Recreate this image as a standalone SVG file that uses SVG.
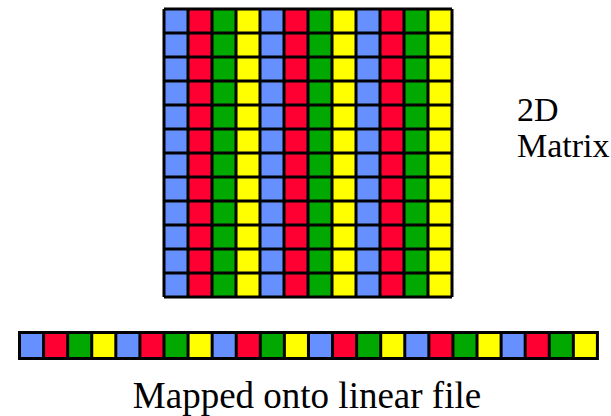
<svg xmlns="http://www.w3.org/2000/svg" width="611" height="416" viewBox="0 0 611 416">
  <style>
    .b { fill: #6690ff; }
    .r { fill: #ff0033; }
    .g { fill: #00a800; }
    .y { fill: #ffff00; }
    .grid { fill: none; stroke: #000; stroke-width: 3; }
    text { font-family: 'Liberation Serif', 'Times New Roman', Tinos, 'Noto Serif', 'DejaVu Serif', FreeSerif, serif; fill: #000; }
  </style>
  <defs>
    <!-- one matrix column: 12 cells of 24 px -->
    <rect id="col" x="0" y="0" width="24" height="288"/>
    <rect id="cell" x="0" y="0" width="24.08" height="26"/>
  </defs>

  <!-- 12 x 12 matrix -->
  <g id="matrix">
    <use href="#col" x="164" y="9" class="b"/>
    <use href="#col" x="188" y="9" class="r"/>
    <use href="#col" x="212" y="9" class="g"/>
    <use href="#col" x="236" y="9" class="y"/>
    <use href="#col" x="260" y="9" class="b"/>
    <use href="#col" x="284" y="9" class="r"/>
    <use href="#col" x="308" y="9" class="g"/>
    <use href="#col" x="332" y="9" class="y"/>
    <use href="#col" x="356" y="9" class="b"/>
    <use href="#col" x="380" y="9" class="r"/>
    <use href="#col" x="404" y="9" class="g"/>
    <use href="#col" x="428" y="9" class="y"/>
    <path class="grid" d="M164 9V297M188 9V297M212 9V297M236 9V297M260 9V297M284 9V297M308 9V297M332 9V297M356 9V297M380 9V297M404 9V297M428 9V297M452 9V297
      M164 9H452M164 33H452M164 57H452M164 81H452M164 105H452M164 129H452M164 153H452M164 177H452M164 201H452M164 225H452M164 249H452M164 273H452M164 297H452"/>
  </g>

  <g id="matrix-label" font-size="34">
    <text x="517" y="121">2D</text>
    <text x="517" y="157">Matrix</text>
  </g>

  <!-- linear file: 24 cells in a row -->
  <g id="linear">
    <use href="#cell" x="19.5" y="332.5" class="b"/>
    <use href="#cell" x="43.58" y="332.5" class="r"/>
    <use href="#cell" x="67.66" y="332.5" class="g"/>
    <use href="#cell" x="91.74" y="332.5" class="y"/>
    <use href="#cell" x="115.82" y="332.5" class="b"/>
    <use href="#cell" x="139.9" y="332.5" class="r"/>
    <use href="#cell" x="163.98" y="332.5" class="g"/>
    <use href="#cell" x="188.06" y="332.5" class="y"/>
    <use href="#cell" x="212.14" y="332.5" class="b"/>
    <use href="#cell" x="236.22" y="332.5" class="r"/>
    <use href="#cell" x="260.3" y="332.5" class="g"/>
    <use href="#cell" x="284.38" y="332.5" class="y"/>
    <use href="#cell" x="308.46" y="332.5" class="b"/>
    <use href="#cell" x="332.54" y="332.5" class="r"/>
    <use href="#cell" x="356.62" y="332.5" class="g"/>
    <use href="#cell" x="380.7" y="332.5" class="y"/>
    <use href="#cell" x="404.78" y="332.5" class="b"/>
    <use href="#cell" x="428.86" y="332.5" class="r"/>
    <use href="#cell" x="452.94" y="332.5" class="g"/>
    <use href="#cell" x="477.02" y="332.5" class="y"/>
    <use href="#cell" x="501.1" y="332.5" class="b"/>
    <use href="#cell" x="525.18" y="332.5" class="r"/>
    <use href="#cell" x="549.26" y="332.5" class="g"/>
    <use href="#cell" x="573.34" y="332.5" class="y"/>
    <path class="grid" d="M19.5 332.5H597.42V358.5H19.5Z
      M43.58 332.5V358.5M67.66 332.5V358.5M91.74 332.5V358.5M115.82 332.5V358.5M139.9 332.5V358.5M163.98 332.5V358.5M188.06 332.5V358.5M212.14 332.5V358.5M236.22 332.5V358.5M260.3 332.5V358.5M284.38 332.5V358.5M308.46 332.5V358.5M332.54 332.5V358.5M356.62 332.5V358.5M380.7 332.5V358.5M404.78 332.5V358.5M428.86 332.5V358.5M452.94 332.5V358.5M477.02 332.5V358.5M501.1 332.5V358.5M525.18 332.5V358.5M549.26 332.5V358.5M573.34 332.5V358.5"/>
  </g>

  <g id="linear-label" font-size="37">
    <text x="307" y="408" text-anchor="middle">Mapped onto linear file</text>
  </g>
</svg>
